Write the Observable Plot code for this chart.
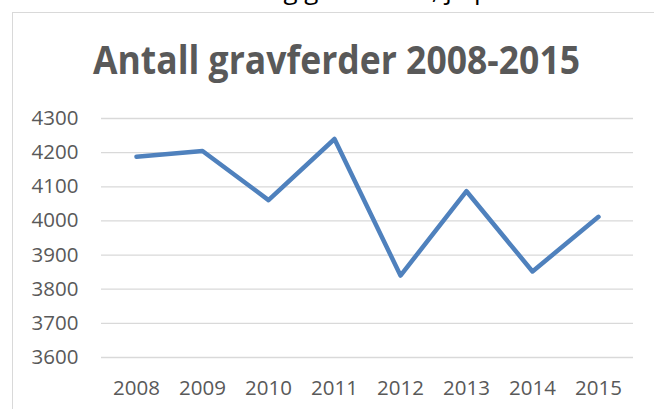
<!DOCTYPE html>
<html>
<head>
<meta charset="utf-8">
<script src="https://cdn.jsdelivr.net/npm/d3@7"></script>
<script src="https://cdn.jsdelivr.net/npm/@observablehq/plot@0.6"></script>
<style>
  html, body { margin: 0; padding: 0; background: #fff; overflow: hidden; }
  #wrap { position: relative; width: 654px; height: 409px; overflow: hidden; background: #fff; }
  #wrap > svg.plot { position: absolute; left: 0; top: 0; }
  #frame { position: absolute; left: 12px; top: 12px; width: 800px; height: 600px;
           border-left: 1.5px solid #d9d9d9; border-top: 1.5px solid #d9d9d9; pointer-events: none; }
  #overlay { position: absolute; left: 0; top: 0; pointer-events: none; }
</style>
</head>
<body>
<div id="wrap"><div id="frame"></div></div>
<script>
const years = ["2008", "2009", "2010", "2011", "2012", "2013", "2014", "2015"];
const values = [4188, 4205, 4061, 4240, 3840, 4087, 3852, 4012];
const yTicks = [3600, 3700, 3800, 3900, 4000, 4100, 4200, 4300];
const title = "Antall gravferder 2008-2015";
const aboveText = "utvikling gravferder, jf. punkt 3";

const data = years.map((y, i) => ({year: y, value: values[i]}));

const chart = Plot.plot({
  width: 654,
  height: 409,
  marginLeft: 101,
  marginRight: 21,
  marginTop: 118,
  marginBottom: 52,
  style: {fontFamily: "'Open Sans', sans-serif", fontSize: "20.5px", color: "#595959", background: "transparent", overflow: "visible"},
  x: {type: "point", domain: years, padding: 0.5, label: null},
  y: {domain: [3600, 4300], label: null},
  marks: [
    Plot.ruleY(yTicks, {stroke: "#d9d9d9", strokeWidth: 1.3}),
    Plot.axisY(yTicks, {tickSize: 0, tickPadding: 23, label: null, fill: "#595959", tickFormat: d => String(d)}),
    Plot.axisX({tickSize: 0, tickPadding: 23, label: null, fill: "#595959"}),
    Plot.line(data, {x: "year", y: "value", stroke: "#4f81bd", strokeWidth: 4.5, strokeLinejoin: "round", strokeLinecap: "round"})
  ]
});
chart.classList.add("plot");
const wrap = document.getElementById("wrap");
wrap.insertBefore(chart, wrap.firstChild);

const ns = "http://www.w3.org/2000/svg";
const ov = document.createElementNS(ns, "svg");
ov.setAttribute("id", "overlay");
ov.setAttribute("width", 654);
ov.setAttribute("height", 409);
const t = document.createElementNS(ns, "text");
t.setAttribute("x", 336.5);
t.setAttribute("y", 73.5);
t.setAttribute("text-anchor", "middle");
t.setAttribute("font-family", "'Open Sans', sans-serif");
t.setAttribute("font-weight", "bold");
t.setAttribute("font-size", "39");
t.setAttribute("fill", "#595959");
t.setAttribute("textLength", 487);
t.setAttribute("lengthAdjust", "spacingAndGlyphs");
t.textContent = title;
ov.appendChild(t);
const a = document.createElementNS(ns, "text");
a.setAttribute("x", 196);
a.setAttribute("y", -1.5);
a.setAttribute("font-family", "'Open Sans', sans-serif");
a.setAttribute("font-size", "26");
a.setAttribute("fill", "#000");
a.textContent = aboveText;
ov.appendChild(a);
wrap.appendChild(ov);
</script>
</body>
</html>
